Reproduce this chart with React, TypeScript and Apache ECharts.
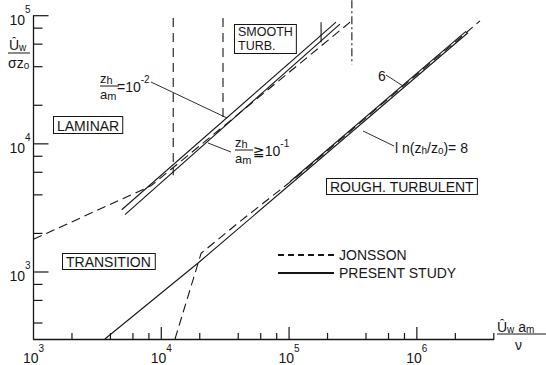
import { useEffect, useRef } from 'react';
import * as echarts from 'echarts';

const FONT = '"Liberation Sans", "DejaVu Sans", sans-serif';
const INK = '#161616';

// axis extents
const X_MIN = 1e3;
const X_MAX = 4e6;
const Y_MIN = 300;
const Y_MAX = 1e5;

// tick positions
const xMajorTicks = [1e4, 1e5, 1e6];
const xMinorTicks = [2e3, 4e3, 6e3, 8e3, 2e4, 4e4, 6e4, 8e4, 2e5, 4e5, 6e5, 8e5, 2e6, 4e6];
const yMajorTicks = [1e3, 1e4, 1e5];
const yMinorTicks = [400, 600, 800, 2e3, 4e3, 6e3, 8e3, 2e4, 4e4, 6e4, 8e4];

// Jonsson (dashed)
const jonssonLaminarSmooth = [[1000, 1800], [8300, 4700], [3.0e5, 8.9e4]];
const jonssonRough = [[1.28e4, 300], [2.05e4, 1400], [4.13e4, 2480], [1.22e5, 5800], [5.14e5, 1.98e4], [3.12e6, 9.1e4]];
const jonssonLamSmoothLimit = [[1.24e4, 9.6e4], [1.24e4, 5700]];
const jonssonSmoothRoughLimit = [[3.04e4, 9.6e4], [3.04e4, 1.57e4]];
const dashDotLimit = [[3.1e5, 1.32e5], [3.1e5, 4.17e4]];

// Present study (solid)
const smoothZh1e2 = [[4900, 3060], [2.33e5, 8.9e4]];
const smoothZh1e1 = [[5200, 2800], [2.5e5, 8.6e4]];
const shortSolidLimit = [[1.78e5, 8.9e4], [1.78e5, 6.2e4]];
const roughLn8 = [[3620, 300], [1.94e4, 1175], [1.22e5, 5610], [2.51e6, 7.36e4]];
const roughLn6 = [[1.02e5, 5080], [2.42e6, 7.55e4]];

const isPow10 = (v: number) => {
  const l = Math.log10(v);
  return Math.abs(l - Math.round(l)) < 1e-6;
};

const tokenRich = {
  n: { fontSize: 14, fontFamily: FONT, lineHeight: 20, verticalAlign: 'bottom', fill: INK },
  sub: { fontSize: 10, fontFamily: FONT, lineHeight: 10, verticalAlign: 'bottom', fill: INK },
  sup: { fontSize: 10, fontFamily: FONT, lineHeight: 13, verticalAlign: 'top', fill: INK },
  f: { fontSize: 13, fontFamily: FONT, lineHeight: 13, verticalAlign: 'bottom', fill: INK },
  fs: { fontSize: 11, fontFamily: FONT, lineHeight: 11, verticalAlign: 'bottom', fill: INK },
};

const rtext = (x: number, y: number, text: string, extra: any = {}) => ({
  type: 'text',
  x,
  y,
  silent: true,
  style: {
    text,
    rich: tokenRich,
    fontFamily: FONT,
    fontSize: 14,
    fill: INK,
    align: 'left',
    verticalAlign: 'top',
    ...extra,
  },
});

const boxText = (x: number, y: number, text: string, fontSize: number, lineHeight: number, padding: number[]) => ({
  type: 'text',
  x,
  y,
  silent: true,
  style: {
    text,
    fontFamily: FONT,
    fontSize,
    lineHeight,
    fill: INK,
    align: 'left',
    verticalAlign: 'top',
    borderColor: INK,
    borderWidth: 1,
    padding,
    backgroundColor: '#fff',
  },
});

const seg = (x1: number, y1: number, x2: number, y2: number, w = 1) => ({
  type: 'line',
  silent: true,
  shape: { x1, y1, x2, y2 },
  style: { stroke: INK, lineWidth: w },
});

const lineSeries = (name: string, data: number[][], type: any) => ({
  name,
  type: 'line',
  data,
  symbol: 'none',
  showSymbol: false,
  clip: false,
  silent: true,
  lineStyle: { color: INK, width: 1.1, type },
  itemStyle: { color: INK },
});

export default function App() {
  const ref = useRef<HTMLDivElement>(null);
  useEffect(() => {
    if (!ref.current) return;
    const chart = echarts.init(ref.current, undefined, { renderer: 'svg' });
    const axisLabelFmt = (v: number) => (isPow10(v) ? `{b|10}{s|${Math.round(Math.log10(v))}}` : '');
    const axisRich = {
      b: { fontSize: 14, fontFamily: FONT, color: INK, lineHeight: 22, verticalAlign: 'bottom' },
      s: { fontSize: 10, fontFamily: FONT, color: INK, lineHeight: 14, verticalAlign: 'top' },
    };
    const dashed = [9, 5];
    const vdashed = [9, 6];
    chart.setOption({
      animation: false,
      backgroundColor: '#ffffff',
      grid: { left: 33.5, top: 15.7, right: 52.2, bottom: 22, containLabel: false },
      xAxis: {
        type: 'log',
        logBase: 10,
        min: X_MIN,
        max: X_MAX,
        axisLine: { show: true, onZero: false, lineStyle: { color: INK, width: 1.3 } },
        axisTick: { show: false },
        splitLine: { show: false },
        axisLabel: { formatter: axisLabelFmt, rich: axisRich, margin: 4, showMinLabel: true, showMaxLabel: true },
      },
      yAxis: {
        type: 'log',
        logBase: 10,
        min: Y_MIN,
        max: Y_MAX,
        axisLine: { show: true, onZero: false, lineStyle: { color: INK, width: 1.3 } },
        axisTick: { show: false },
        splitLine: { show: false },
        axisLabel: { formatter: axisLabelFmt, rich: axisRich, margin: 3, showMinLabel: true, showMaxLabel: true },
      },
      legend: {
        data: [
          { name: 'JONSSON', lineStyle: { type: [6, 4] } },
          { name: 'PRESENT STUDY' },
        ],
        orient: 'vertical',
        left: 277,
        top: 248,
        padding: 0,
        itemWidth: 56,
        itemHeight: 14,
        itemGap: 4,
        selectedMode: false,
        itemStyle: { opacity: 0, borderWidth: 0 },
        textStyle: { fontFamily: FONT, fontSize: 14, color: INK },
      },
      series: [
        lineSeries('JONSSON', jonssonLaminarSmooth, dashed),
        lineSeries('jonssonRough', jonssonRough, dashed),
        lineSeries('jonssonLamSmooth', jonssonLamSmoothLimit, vdashed),
        lineSeries('jonssonSmoothRough', jonssonSmoothRoughLimit, vdashed),
        lineSeries('dashDot', dashDotLimit, [8, 3, 2, 3]),
        lineSeries('PRESENT STUDY', smoothZh1e2, 'solid'),
        lineSeries('smoothZh1e1', smoothZh1e1, 'solid'),
        lineSeries('shortSolid', shortSolidLimit, 'solid'),
        lineSeries('roughLn8', roughLn8, 'solid'),
        lineSeries('roughLn6', roughLn6, 'solid'),
      ],
    });

    // axis ticks, placed through the chart's own log scales
    const toPx = (p: number[]) => chart.convertToPixel({ xAxisIndex: 0, yAxisIndex: 0 }, p) as number[];
    const ticks: any[] = [];
    const addX = (vals: number[], len: number) =>
      vals.forEach((v) => {
        const p = toPx([v, Y_MIN]);
        ticks.push(seg(p[0], p[1], p[0], p[1] - len, 1.2));
      });
    const addY = (vals: number[], len: number) =>
      vals.forEach((v) => {
        const p = toPx([X_MIN, v]);
        ticks.push(seg(p[0], p[1], p[0] + len, p[1], 1.2));
      });
    addX(xMajorTicks, 12);
    addX(xMinorTicks, 6);
    addY(yMajorTicks, 15);
    addY(yMinorTicks, 9);

    chart.setOption({
      graphic: [
        ...ticks,
        // y axis title
        rtext(9, 32, '{n|Û}{sub|w}'),
        seg(8, 53, 30, 53),
        rtext(8, 50, '{n|σz}{sub|o}'),
        // x axis title
        rtext(497, 314, '{n|Û}{sub|w}{n| a}{sub|m}'),
        seg(497, 334, 546, 334),
        rtext(515, 332, '{n|ν}'),
        // z_h/a_m = 10^-2
        rtext(100, 72, '{f|z}{fs|h}'),
        seg(100, 86, 119, 86),
        rtext(100, 88, '{f|a}{fs|m}'),
        rtext(117, 74, '{n|=10}{sup|-2}'),
        seg(151, 82, 227, 118, 0.9),
        // z_h/a_m >= 10^-1
        rtext(235, 136, '{f|z}{fs|h}'),
        seg(235, 150, 253, 150),
        rtext(235, 152, '{f|a}{fs|m}'),
        rtext(253, 138, '{n|≧10}{sup|-1}'),
        seg(208, 143, 231, 152, 0.9),
        // rough labels
        rtext(378, 63, '{n|6}'),
        seg(386, 75, 403, 86, 0.9),
        rtext(395, 135, '{n|l n(z}{sub|h}{n|/z}{sub|o}{n|)= 8}'),
        seg(363, 131, 394, 146, 0.9),
        // region boxes
        boxText(54, 117, 'LAMINAR', 14, 13, [2, 3, 1, 3]),
        boxText(235, 25, 'SMOOTH\nTURB.', 12.5, 14, [0, 3, 0, 3]),
        boxText(63, 254, 'TRANSITION', 14, 12, [2, 4, 1, 3]),
        boxText(327, 179, 'ROUGH. TURBULENT', 14, 12, [2, 3, 1, 3]),
      ],
    });
    return () => chart.dispose();
  }, []);
  return (
    <div
      ref={ref}
      style={{ position: 'fixed', left: 0, top: 0, width: 546, height: 365, background: '#fff' }}
    />
  );
}
